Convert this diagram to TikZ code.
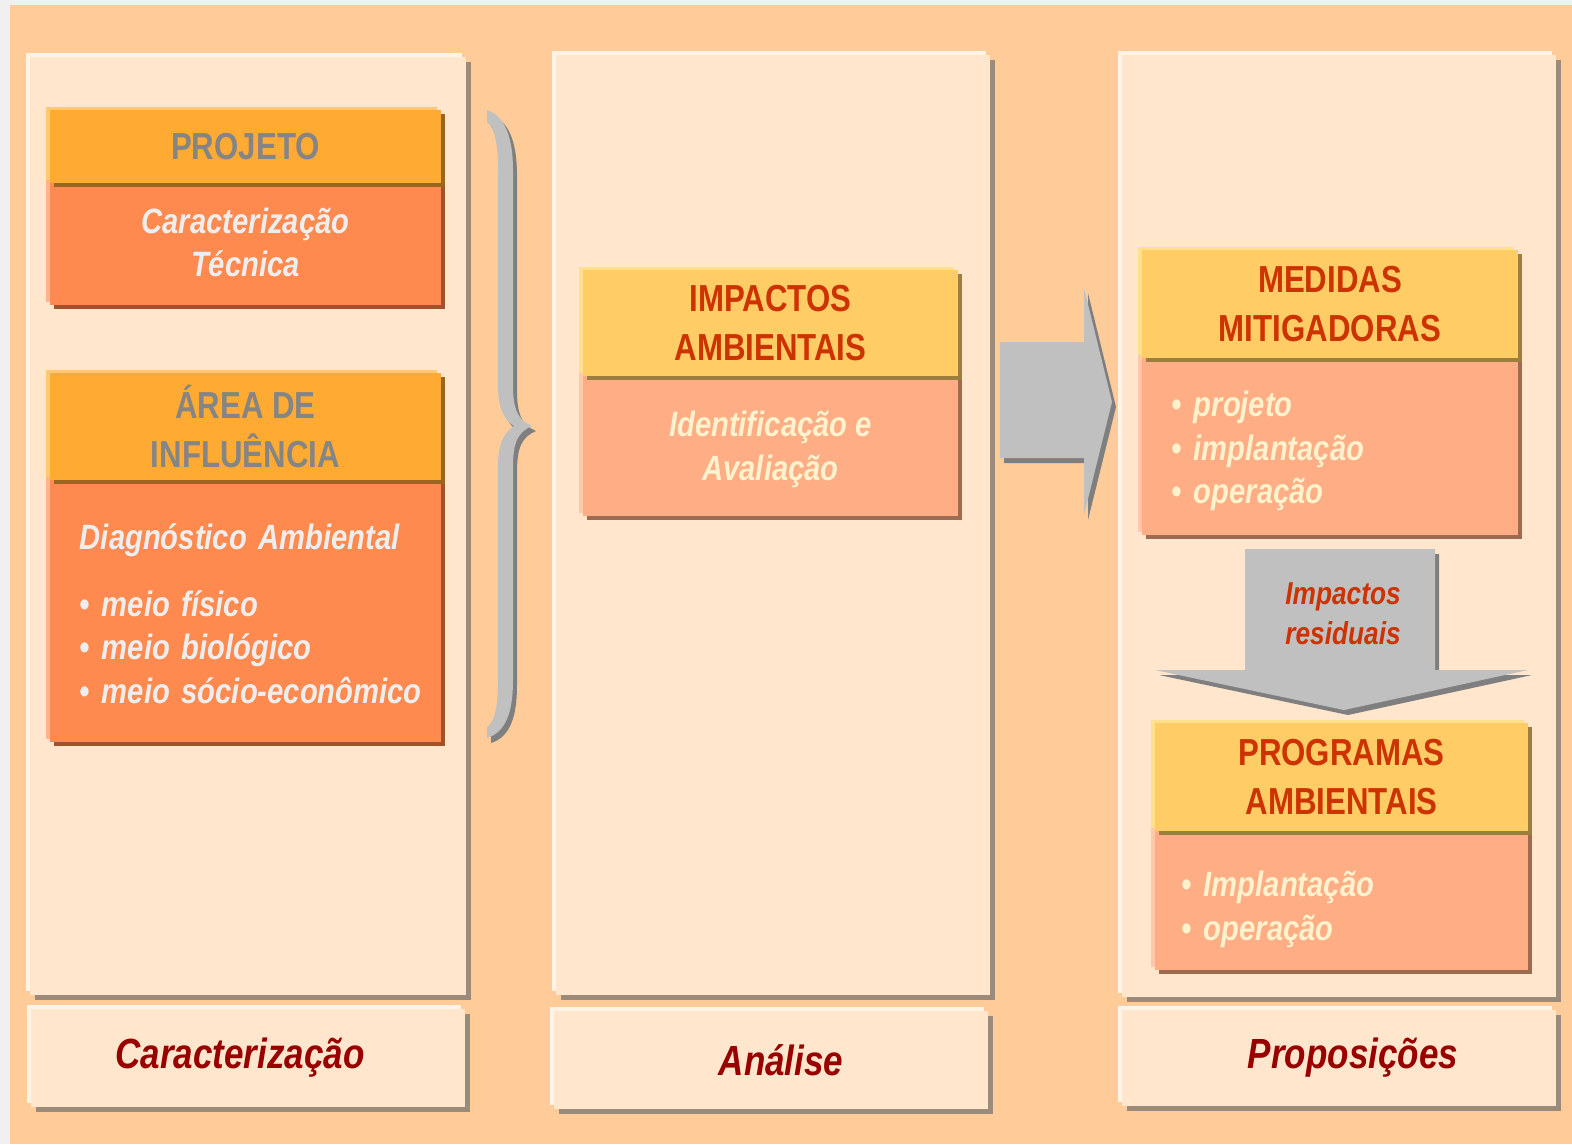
\documentclass[tikz,border=0pt]{standalone}
\usepackage{fontspec}
\newfontfamily\boxfont[FakeStretch=0.83]{Liberation Sans}
\usetikzlibrary{shadows}

\definecolor{peach}{HTML}{FFCC99}
\definecolor{cream}{HTML}{FFE6CC}
\definecolor{panelshade}{HTML}{9C8B7A}
\definecolor{panellight}{HTML}{FFF3E6}
\definecolor{orangehead}{HTML}{FFAA33}
\definecolor{orangehdshade}{HTML}{996622}
\definecolor{orangehdlight}{HTML}{FFC878}
\definecolor{orangebody}{HTML}{FF8A50}
\definecolor{orangebdshade}{HTML}{A0522D}
\definecolor{orangebdlight}{HTML}{FFB48C}
\definecolor{yellowhead}{HTML}{FFCC66}
\definecolor{yellowhdshade}{HTML}{9C7F3F}
\definecolor{yellowhdlight}{HTML}{FFE08C}
\definecolor{salmonbody}{HTML}{FFAD85}
\definecolor{salmonbdshade}{HTML}{9C6B52}
\definecolor{salmonbdlight}{HTML}{FFC8A8}
\definecolor{redtext}{HTML}{CC3300}
\definecolor{creamtext}{HTML}{FFF2CC}
\definecolor{greytext}{HTML}{858585}
\definecolor{whitetext}{HTML}{EEEEEE}
\definecolor{captiontext}{HTML}{990000}
\definecolor{arrowgrey}{HTML}{C0C0C0}
\definecolor{arrowshade}{HTML}{7F7F7F}

\begin{document}
\begin{tikzpicture}[x=0.01cm, y=-0.01cm]
    \tikzstyle{box}=[rectangle, inner sep=0pt, align=center]
    \tikzstyle{panel}=[box, fill=cream, general shadow={fill=panellight, shadow xshift=-.04cm, shadow yshift=.04cm}, general shadow={fill=panelshade, shadow xshift=.05cm, shadow yshift=-.05cm}]
    \tikzstyle{caption}=[panel, minimum width=4.34cm, text=captiontext, font=\boxfont\bfseries\itshape\fontsize{12}{14}\selectfont]
    \tikzstyle{headA}=[box, minimum width=3.91cm, fill=orangehead, text=greytext, font=\boxfont\bfseries\fontsize{10.7}{14}\selectfont, general shadow={fill=orangehdlight, shadow xshift=-.04cm, shadow yshift=.03cm}, general shadow={fill=orangehdshade, shadow xshift=.04cm, shadow yshift=-.04cm}]
    \tikzstyle{bodyA}=[box, minimum width=3.91cm, fill=orangebody, text=whitetext, font=\boxfont\bfseries\itshape\fontsize{10}{12.4}\selectfont, general shadow={fill=orangebdlight, shadow xshift=-.04cm, shadow yshift=.03cm}, general shadow={fill=orangebdshade, shadow xshift=.04cm, shadow yshift=-.04cm}]
    \tikzstyle{headB}=[box, fill=yellowhead, text=redtext, font=\boxfont\bfseries\fontsize{10.7}{14}\selectfont, general shadow={fill=yellowhdlight, shadow xshift=-.04cm, shadow yshift=.03cm}, general shadow={fill=yellowhdshade, shadow xshift=.04cm, shadow yshift=-.04cm}]
    \tikzstyle{bodyB}=[box, fill=salmonbody, text=creamtext, font=\boxfont\bfseries\itshape\fontsize{10}{12.4}\selectfont, general shadow={fill=salmonbdlight, shadow xshift=-.04cm, shadow yshift=.03cm}, general shadow={fill=salmonbdshade, shadow xshift=.04cm, shadow yshift=-.04cm}]
    \tikzstyle{greyshape}=[fill=arrowgrey, general shadow={fill=arrowshade, shadow xshift=.04cm, shadow yshift=-.05cm}]

    \useasboundingbox (0,0) rectangle (1572,1144);
    \fill[gray!12] (0,0) rectangle (1572,1144);
    \fill[peach] (10,5) rectangle (1572,1144);

    \node[panel, minimum width=4.35cm, minimum height=9.38cm] (leftpanel) at (248,526) {};
    \node[panel, minimum width=4.34cm, minimum height=9.40cm] (midpanel) at (773,525) {};
    \node[panel, minimum width=4.34cm, minimum height=9.42cm] (rightpanel) at (1339,526) {};

    \node[caption, minimum height=.97cm] (leftcap) at (248,1058) {\hspace*{-.16cm}Caracterização};
    \node[caption, minimum height=.97cm] (midcap) at (771,1060) {\hspace*{.2cm}Análise};
    \node[caption, minimum height=.96cm] (rightcap) at (1339,1058) {\hspace*{.28cm}Proposições};

    \path[greyshape] (487,110) .. controls (506,116) and (513,140) .. (513,170) -- (513,385)
      .. controls (513,410) and (518,420) .. (532,426) .. controls (518,432) and (513,442) .. (513,467)
      -- (513,680) .. controls (513,712) and (506,732) .. (487,738) -- (487,727)
      .. controls (495,722) and (498,705) .. (498,680) -- (498,467)
      .. controls (498,445) and (503,433) .. (514,426) .. controls (503,419) and (498,407) .. (498,385)
      -- (498,170) .. controls (498,145) and (495,128) .. (487,122) -- cycle;
    \path[greyshape] (1000,342) -- (1084,342) -- (1084,288) -- (1112,402) -- (1084,515) -- (1084,458) -- (1000,458) -- cycle;
    \path[greyshape] (1245,549) -- (1435,549) -- (1435,670) -- (1528,670) -- (1344,710) -- (1155,670) -- (1245,670) -- cycle;
    \node[box, text=redtext, font=\boxfont\bfseries\itshape\fontsize{9}{11.4}\selectfont] (residual) at (1343,614) {Impactos\\residuais};

    \node[bodyA, minimum height=1.25cm] (projbody) at (245.5,242.5) {Caracterização\\Técnica};
    \node[headA, minimum height=.73cm] (projhead) at (245.5,146.5) {PROJETO};
    \node[bodyA, minimum height=2.67cm, text width=3.31cm, inner xsep=.3cm, align=left] (areabody) at (245.5,608.5)
      {\rule{0pt}{.36cm}Diagnóstico Ambiental\\[.23cm] • meio físico\\ • meio biológico\\ \mbox{• meio sócio-econômico}};
    \node[headA, minimum height=1.07cm] (areahead) at (245.5,426.5) {ÁREA DE\\INFLUÊNCIA};

    \node[bodyB, minimum width=3.75cm, minimum height=1.46cm] (impbody) at (770.5,443) {\rule{0pt}{.38cm}Identificação e\\Avaliação};
    \node[headB, minimum width=3.75cm, minimum height=1.06cm] (imphead) at (770.5,323) {IMPACTOS\\AMBIENTAIS};

    \node[bodyB, minimum height=1.80cm, text width=3.16cm, inner xsep=.3cm, align=left] (medbody) at (1330,445) {\rule{0pt}{.38cm}• projeto\\ • implantação\\ • operação};
    \node[headB, minimum width=3.76cm, minimum height=1.08cm] (medhead) at (1330,304) {MEDIDAS\\MITIGADORAS};

    \node[bodyB, minimum height=1.45cm, text width=3.19cm, inner xsep=.27cm, align=left] (progbody) at (1341.5,897.5) {\rule{0pt}{.49cm}• Implantação\\ • operação};
    \node[headB, minimum width=3.73cm, minimum height=1.08cm] (proghead) at (1341.5,777) {PROGRAMAS\\AMBIENTAIS};
\end{tikzpicture}
\end{document}
